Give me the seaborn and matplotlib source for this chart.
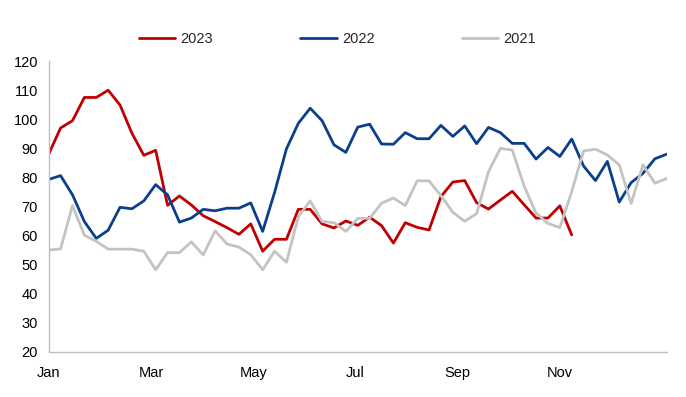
import numpy as np
import pandas as pd
import matplotlib
matplotlib.use("Agg")
import matplotlib.pyplot as plt
import seaborn as sns

# weekly values
y2023 = [88, 97, 99.5, 107.5, 107.5, 110, 104.9, 95.2, 87.6, 89.3, 70.4, 73.6,
         70.5, 66.8, 64.8, 62.7, 60.4, 64, 54.6, 58.7, 58.7, 69, 69, 64,
         62.6, 65, 63.5, 66.3, 63.4, 57.4, 64.4, 62.8, 61.9, 73.4, 78.4, 78.9,
         71.3, 69.1, 72.2, 75.2, 70.6, 66, 66, 70.2, 60.2]
y2022 = [79.3, 80.6, 74, 64.8, 59, 61.8, 69.7, 69.2, 71.9, 77.5, 74, 64.6,
         66, 69, 68.5, 69.4, 69.4, 71.2, 61.4, 74.8, 89.8, 98.6, 103.8, 99.5,
         91.2, 88.6, 97.3, 98.3, 91.5, 91.4, 95.4, 93.3, 93.3, 97.9, 94.1, 97.7,
         91.6, 97.2, 95.4, 91.7, 91.7, 86.3, 90.3, 87.2, 93.2, 83.9, 78.9, 85.5,
         71.5, 78.2, 81.4, 86.4, 88]
y2021 = [55, 55.4, 70.3, 60.1, 58, 55.3, 55.3, 55.3, 54.6, 48.2, 54.1, 54.1,
         57.8, 53.3, 61.6, 57.1, 56, 53.4, 48.2, 54.6, 50.8, 66.5, 71.9, 64.8,
         64.4, 61.4, 65.9, 65.9, 71.1, 72.9, 70.3, 78.8, 78.8, 73.7, 68, 64.9,
         67.5, 82, 90, 89.4, 77, 67.7, 64.2, 62.7, 75.1, 89.1, 89.7, 87.7,
         84.3, 71, 84.3, 78, 79.6]
years = ["2023", "2022", "2021"]
month_labels = ["Jan", "Mar", "May", "Jul", "Sep", "Nov", ""]

frames = []
for name, vals in zip(years, [y2023, y2022, y2021]):
    frames.append(pd.DataFrame({"week": np.arange(len(vals)), "value": vals, "year": name}))
df = pd.concat(frames, ignore_index=True)

colors = {"2023": "#C00000", "2022": "#0B3F8C", "2021": "#C3C3C3"}

sns.set_style("white")
plt.rcParams["font.family"] = ["Liberation Sans", "DejaVu Sans"]

fig = plt.figure(figsize=(6.86, 3.97), dpi=100)
ax = fig.add_axes([0.071, 0.114, 0.901, 0.732])

sns.lineplot(data=df, x="week", y="value", hue="year", hue_order=years,
             palette=colors, linewidth=2.0, ax=ax)

ax.set_xlim(0, 52)
ax.set_ylim(20, 120)
ax.set_yticks(np.arange(20, 121, 10))
ax.set_xticks(np.arange(7) * 8.6)
ax.set_xticklabels(month_labels)
ax.set_xlabel("")
ax.set_ylabel("")

for s in ["top", "right"]:
    ax.spines[s].set_visible(False)
for s in ["left", "bottom"]:
    ax.spines[s].set_color("#BFBFBF")
    ax.spines[s].set_linewidth(1.0)
ax.tick_params(axis="both", colors="#BFBFBF", length=5, width=1.0,
               labelcolor="black", labelsize=10.5, direction="out")
ax.tick_params(axis="x", pad=5)
ax.tick_params(axis="y", pad=2.7)

ax.legend(loc="center", bbox_to_anchor=(0.467, 1.076), ncol=3, frameon=False,
          fontsize=10.5, handlelength=2.5, handletextpad=0.35, columnspacing=6.0)

fig.savefig("out.png", dpi=100)
